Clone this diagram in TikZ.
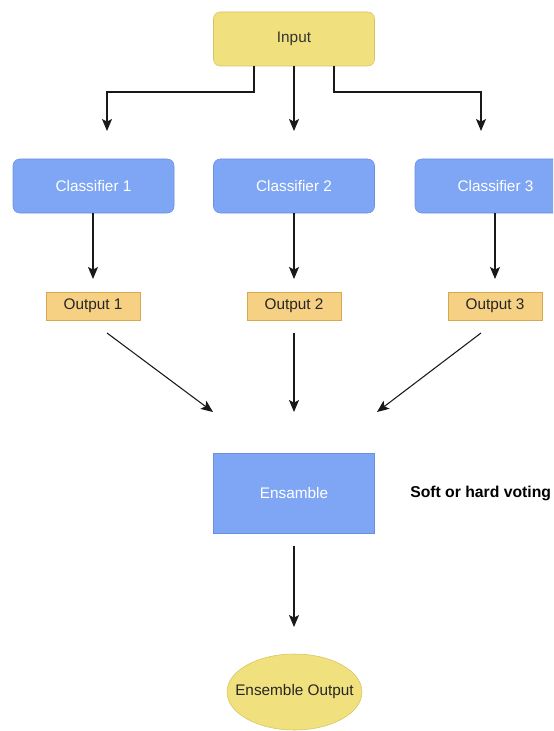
\documentclass[tikz,border=0pt]{standalone}
\usepackage{fontspec}
\setmainfont{Liberation Sans}
\usetikzlibrary{arrows.meta,shapes.geometric}
\definecolor{inputfill}{HTML}{F0E07E}
\definecolor{inputline}{HTML}{D6C35E}
\definecolor{clsfill}{HTML}{7EA6F5}
\definecolor{clsline}{HTML}{6C8EE0}
\definecolor{outfill}{HTML}{F6D083}
\definecolor{outline}{HTML}{D6A850}
\tikzset{
  every node/.style={font=\fontsize{11.5}{13}\selectfont},
  inbox/.style={draw=inputline, fill=inputfill, rounded corners=5pt, minimum width=161*0.75pt, minimum height=54*0.75pt, inner sep=0pt, text=black!80},
  clsbox/.style={draw=clsline, fill=clsfill, rounded corners=5pt, minimum width=161*0.75pt, minimum height=54*0.75pt, inner sep=0pt, text=white},
  outbox/.style={draw=outline, fill=outfill, minimum width=94*0.75pt, minimum height=28*0.75pt, inner sep=0pt, text=black!85},
  ensbox/.style={draw=clsline, fill=clsfill, minimum width=161*0.75pt, minimum height=80*0.75pt, inner sep=0pt, text=white},
  resell/.style={ellipse, draw=inputline, fill=inputfill, minimum width=135*0.75pt, minimum height=76*0.75pt, inner sep=0pt, text=black!85},
  arr/.style={draw=black!90, line width=0.8pt, -{Stealth[length=9pt,width=7.5pt,inset=2pt]}},
}
\begin{document}
\begin{tikzpicture}[x=0.75pt,y=-0.75pt]
\useasboundingbox (0,0) rectangle (553,731);
\begin{scope}
\clip (0,0) rectangle (553,731);

% top input
\node[inbox] (input) at (294,39) {Input};

% classifiers
\node[clsbox] (c1) at (93.5,186) {Classifier 1};
\node[clsbox] (c2) at (294,186) {Classifier 2};
\node[clsbox] (c3) at (495.5,186) {Classifier 3};

% outputs
\node[outbox] (o1) at (93,306) {Output 1};
\node[outbox] (o2) at (294,306) {Output 2};
\node[outbox] (o3) at (495,306) {Output 3};

% ensemble and result
\node[ensbox] (ens) at (294,493) {Ensamble};
\node[font=\fontsize{11.8}{13}\selectfont\bfseries, anchor=west, inner sep=0pt] (vote) at (410,493) {Soft or hard voting};
\node[resell] (res) at (294.5,692) {\makebox[0pt]{Ensemble Output}};

% free arrow ends
\coordinate (t1) at (107,131);
\coordinate (t2) at (294,131);
\coordinate (t3) at (481,131);
\coordinate (u1) at (93,279);
\coordinate (u2) at (294,279);
\coordinate (u3) at (495,279);
\coordinate (s1) at (107,333);
\coordinate (s2) at (294,333);
\coordinate (s3) at (481,333);
\coordinate (e1) at (213,412);
\coordinate (e2) at (294,412);
\coordinate (e3) at (377,412);
\coordinate (r0) at (294,546);
\coordinate (r1) at (294,627);

% input fan-out
\draw[arr] (input.south -| 254,0) |- (175,92) -| (t1);
\draw[arr] (input.south -| t2) -- (t2);
\draw[arr] (input.south -| 334,0) |- (415,92) -| (t3);

% classifier to output
\draw[arr] (c1.south -| u1) -- (u1);
\draw[arr] (c2.south -| u2) -- (u2);
\draw[arr] (c3.south -| u3) -- (u3);

% outputs to ensemble
\draw[arr] (s1) -- (e1);
\draw[arr] (s2) -- (e2);
\draw[arr] (s3) -- (e3);

% ensemble to result
\draw[arr] (r0) -- (r1);
\end{scope}
\end{tikzpicture}
\end{document}
